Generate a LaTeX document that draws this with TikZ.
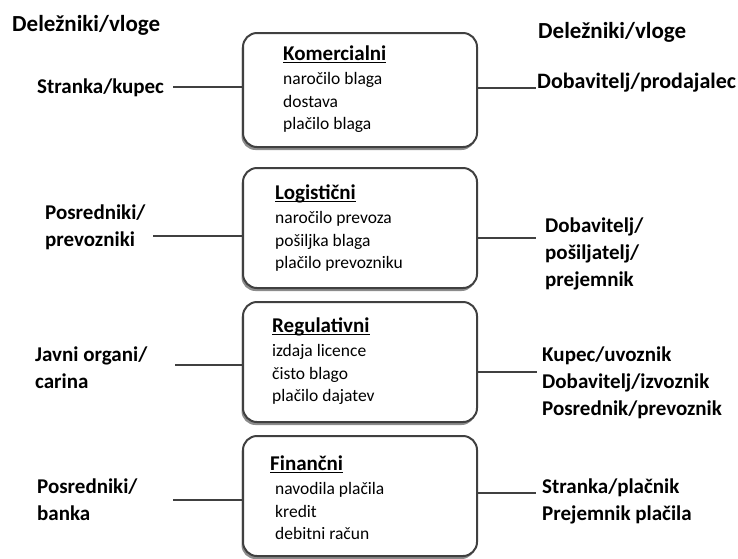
\documentclass[tikz,border=0pt]{standalone}
\usepackage{fontspec}
\setmainfont{Carlito}
\usetikzlibrary{positioning,shadows}

\newsavebox{\glavabox}
\newcommand{\glava}[1]{{\fontsize{21}{24}\selectfont\bfseries
    \sbox{\glavabox}{#1}\rlap{\usebox{\glavabox}}\rule[-3pt]{\wd\glavabox}{1.4pt}}}

\begin{document}
\begin{tikzpicture}[
    x=1pt, y=-1pt,
    every node/.style={inner sep=0pt},
    kutija/.style={
        rectangle,
        draw=black!75,
        line width=2pt,
        rounded corners=14pt,
        fill=white,
        minimum width=234pt,
        minimum height=120pt,
        drop shadow={shadow xshift=-1.5pt, shadow yshift=-3pt, fill=black!45, opacity=1}
    },
    vsebina/.style={
        anchor=base west,
        align=left,
        font=\fontsize{17.5}{22.5}\selectfont
    },
    vloga/.style={
        anchor=base west,
        align=left,
        font=\fontsize{21}{27}\selectfont\bfseries
    },
    vez/.style={draw=black!75, line width=1.8pt}
]
\useasboundingbox (0,0) rectangle (738,558);

% Titles
\node[font=\fontsize{23}{27}\selectfont\bfseries, anchor=base west] (naslov-l) at (12,31) {Deležniki/vloge};
\node[font=\fontsize{23}{27}\selectfont\bfseries, anchor=base west] (naslov-d) at (538,38) {Deležniki/vloge};

% Four boxes in a column
\node[kutija, minimum height=114pt] (kom) at (360,90) {};
\node[kutija] (log) at (360,228) {};
\node[kutija] (reg) at (360,362) {};
\node[kutija] (fin) at (360,496) {};

% Box contents (base = last line)
\node[vsebina] (kom-t) at (283,129.5) {
    \glava{Komercialni}\\[2pt]
    naročilo blaga\\
    dostava\\
    plačilo blaga
};
\node[vsebina] (log-t) at (275,268.5) {
    \glava{Logistični}\\[2pt]
    naročilo prevoza\\
    pošiljka blaga\\
    plačilo prevozniku
};
\node[vsebina] (reg-t) at (272,401.5) {
    \glava{Regulativni}\\[2pt]
    izdaja licence\\
    čisto blago\\
    plačilo dajatev
};
\node[vsebina] (fin-t) at (270,539.5) {
    \glava{Finančni}\\[2pt]
    \hspace*{5pt}navodila plačila\\
    \hspace*{5pt}kredit\\
    \hspace*{5pt}debitni račun
};

% Roles on the left
\node[vloga] (lkom) at (37,93) {Stranka/kupec};
\node[vloga] (llog) at (45,246) {Posredniki/\\prevozniki};
\node[vloga] (lreg) at (35,388) {Javni organi/\\carina};
\node[vloga] (lfin) at (37,520) {Posredniki/\\banka};

% Roles on the right
\node[vloga, font=\fontsize{22}{27}\selectfont\bfseries] (dkom) at (537,88) {Dobavitelj/prodajalec};
\node[vloga] (dlog) at (545,286) {Dobavitelj/\\pošiljatelj/\\prejemnik};
\node[vloga] (dreg) at (542,415) {Kupec/uvoznik\\Dobavitelj/izvoznik\\Posrednik/prevoznik};
\node[vloga] (dfin) at (542,520) {Stranka/plačnik\\Prejemnik plačila};

% Line ends next to the roles
\coordinate (kom-l) at (173,87);
\coordinate (log-l) at (153,236);
\coordinate (reg-l) at (175,365);
\coordinate (fin-l) at (173,500);
\coordinate (kom-d) at (536,88);
\coordinate (log-d) at (536,238);
\coordinate (reg-d) at (537,372);
\coordinate (fin-d) at (536,493);

% Connect roles to boxes
\draw[vez] (kom-l) -- (kom-l -| kom.west);
\draw[vez] (log-l) -- (log-l -| log.west);
\draw[vez] (reg-l) -- (reg-l -| reg.west);
\draw[vez] (fin-l) -- (fin-l -| fin.west);
\draw[vez] (kom-d -| kom.east) -- (kom-d);
\draw[vez] (log-d -| log.east) -- (log-d);
\draw[vez] (reg-d -| reg.east) -- (reg-d);
\draw[vez] (fin-d -| fin.east) -- (fin-d);

\end{tikzpicture}
\end{document}
